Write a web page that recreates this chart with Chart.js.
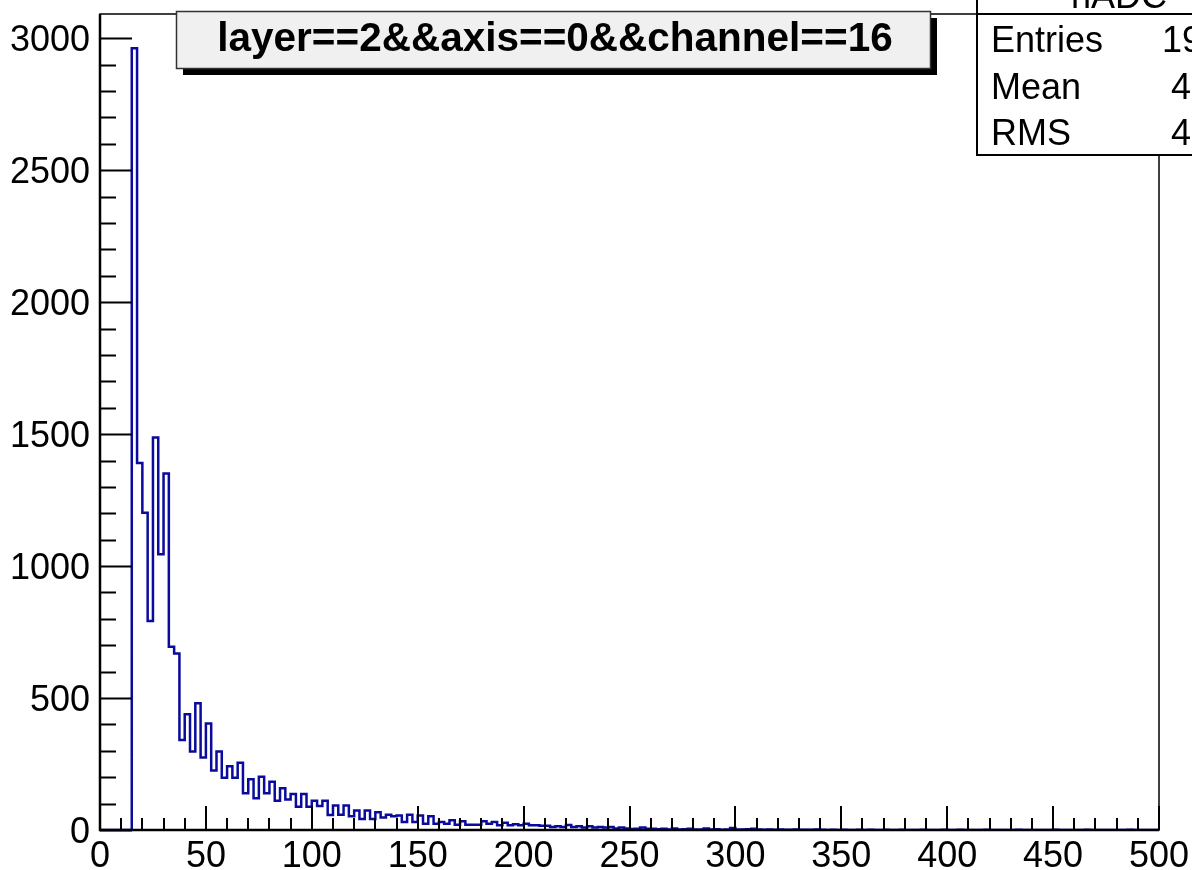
<!DOCTYPE html>
<html>
<head>
<meta charset="utf-8">
<script src="https://cdn.jsdelivr.net/npm/chart.js@4"></script>
<style>
    html, body { margin: 0; padding: 0; background: #ffffff; }
    #wrap { width: 1192px; height: 870px; }
</style>
</head>
<body>
<div id="wrap"><canvas id="chart" width="1192" height="870"></canvas></div>
<script>
// histogram: 200 bins of width 2.5 from 0 to 500
const binWidth = 2.5;
const counts = [
    0, 0, 0, 0, 0, 0, 2962, 1391, 1202, 792,
    1487, 1045, 1351, 694, 669, 341, 439, 297, 480, 275,
    404, 225, 297, 198, 242, 198, 255, 139, 192, 120,
    202, 139, 183, 111, 158, 116, 136, 88, 136, 88,
    111, 91, 111, 57, 93, 58, 93, 52, 74, 42,
    74, 42, 67, 47, 58, 52, 55, 30, 58, 30,
    55, 24, 52, 24, 30, 24, 37, 20, 33, 20,
    20, 20, 33, 24, 30, 18, 27, 18, 22, 18,
    24, 18, 18, 16, 16, 11, 14, 11, 19, 11,
    14, 9, 14, 9, 11, 9, 11, 6, 9, 6,
    4, 5, 9, 5, 5, 3, 5, 2, 6, 2,
    3, 5, 2, 2, 6, 2, 3, 1, 2, 8,
    2, 2, 3, 5, 2, 1, 2, 1, 2, 1,
    1, 2, 1, 1, 1, 2, 1, 0, 1, 0,
    1, 0, 0, 1, 0, 1, 0, 0, 1, 0,
    0, 1, 0, 0, 0, 1, 0, 0, 0, 1,
    0, 0, 1, 0, 0, 0, 0, 1, 0, 0,
    0, 0, 0, 1, 0, 0, 0, 0, 0, 0,
    1, 0, 0, 0, 0, 0, 1, 0, 0, 0,
    0, 0, 0, 0, 1, 0, 0, 0, 0, 0
];

const xTicks = [0, 50, 100, 150, 200, 250, 300, 350, 400, 450, 500];
const xTickLabels = ["0", "50", "100", "150", "200", "250", "300", "350", "400", "450", "500"];
const yTicks = [0, 500, 1000, 1500, 2000, 2500, 3000];
const yTickLabels = ["0", "500", "1000", "1500", "2000", "2500", "3000"];

const titleText = "layer==2&&axis==0&&channel==16";
const statsTitle = "hADC";
const statsNames = ["Entries", "Mean", "RMS"];
const statsValues = ["19", "4", "4"];

const points = counts.map((c, i) => ({ x: i * binWidth, y: c }));
points.push({ x: counts.length * binWidth, y: counts[counts.length - 1] });

const FONT = "\"Liberation Sans\", Arial, Helvetica, sans-serif";

const rootFrame = {
    id: "rootFrame",
    afterDraw(chart) {
        const { ctx, chartArea: a, scales } = chart;
        const xs = scales.x;
        const ys = scales.y;
        ctx.save();

        // frame
        ctx.strokeStyle = "#000";
        ctx.lineWidth = 1.5;
        ctx.strokeRect(a.left, a.top, a.right - a.left, a.bottom - a.top);
        ctx.lineWidth = 2.5;
        ctx.beginPath();
        ctx.moveTo(a.left, a.top);
        ctx.lineTo(a.left, a.bottom);
        ctx.lineTo(a.right, a.bottom);
        ctx.stroke();

        // y ticks (inside)
        ctx.lineWidth = 2;
        ctx.beginPath();
        for (let v = 0; v <= ys.max; v += 100) {
            const y = Math.round(ys.getPixelForValue(v)) + 0.5;
            const len = v % 500 === 0 ? 32 : 16;
            ctx.moveTo(a.left, y);
            ctx.lineTo(a.left + len, y);
        }
        // x ticks (inside)
        for (let v = 0; v <= xs.max; v += 10) {
            const x = Math.round(xs.getPixelForValue(v));
            const len = v % 50 === 0 ? 24 : 12;
            ctx.moveTo(x, a.bottom);
            ctx.lineTo(x, a.bottom - len);
        }
        ctx.stroke();

        // tick labels
        ctx.fillStyle = "#000";
        ctx.font = "36px " + FONT;
        ctx.textAlign = "right";
        ctx.textBaseline = "alphabetic";
        yTicks.forEach((v, i) => {
            ctx.fillText(yTickLabels[i], a.left - 10, ys.getPixelForValue(v) + 13);
        });
        ctx.textAlign = "center";
        xTicks.forEach((v, i) => {
            ctx.fillText(xTickLabels[i], xs.getPixelForValue(v), 867);
        });

        // title box with shadow
        const tb = { x: 176, y: 11, w: 754, h: 57 };
        ctx.fillStyle = "#000";
        ctx.fillRect(tb.x + 7, tb.y + 7, tb.w, tb.h);
        ctx.fillStyle = "#f0f0f0";
        ctx.fillRect(tb.x, tb.y, tb.w, tb.h);
        ctx.strokeStyle = "#333";
        ctx.lineWidth = 1.5;
        ctx.strokeRect(tb.x + 0.5, tb.y + 0.5, tb.w, tb.h);
        ctx.fillStyle = "#000";
        ctx.font = "bold 40.5px " + FONT;
        ctx.textAlign = "center";
        ctx.fillText(titleText, tb.x + tb.w / 2 + 2, 51);

        // stats box (cut at the right edge)
        const sb = { x: 977, y: -2, w: 240, h: 157 };
        ctx.fillStyle = "#fff";
        ctx.fillRect(sb.x, sb.y, sb.w, sb.h);
        ctx.strokeStyle = "#000";
        ctx.lineWidth = 2;
        ctx.strokeRect(sb.x, sb.y, sb.w, sb.h);
        ctx.beginPath();
        ctx.moveTo(sb.x, 14);
        ctx.lineTo(sb.x + sb.w, 14);
        ctx.stroke();
        ctx.fillStyle = "#000";
        ctx.font = "36px " + FONT;
        ctx.textAlign = "left";
        ctx.fillText(statsTitle, 1071, 8);
        const rowBase = [52, 98.5, 145];
        statsNames.forEach((n, i) => {
            ctx.fillText(n, 991, rowBase[i]);
            ctx.fillText(statsValues[i], i === 0 ? 1162 : 1171, rowBase[i]);
        });

        ctx.restore();
    }
};

new Chart(document.getElementById("chart"), {
    type: "line",
    data: {
        datasets: [{
            data: points,
            stepped: true,
            borderColor: "#0a0a9c",
            borderWidth: 2.5,
            pointRadius: 0,
            fill: false,
            tension: 0
        }]
    },
    options: {
        responsive: false,
        animation: false,
        layout: { padding: { left: 100, right: 33, top: 14, bottom: 40 } },
        scales: {
            x: { type: "linear", min: 0, max: 500, display: false },
            y: { type: "linear", min: 0, max: 3092, display: false }
        },
        plugins: {
            legend: { display: false },
            tooltip: { enabled: false }
        }
    },
    plugins: [rootFrame]
});
</script>
</body>
</html>
